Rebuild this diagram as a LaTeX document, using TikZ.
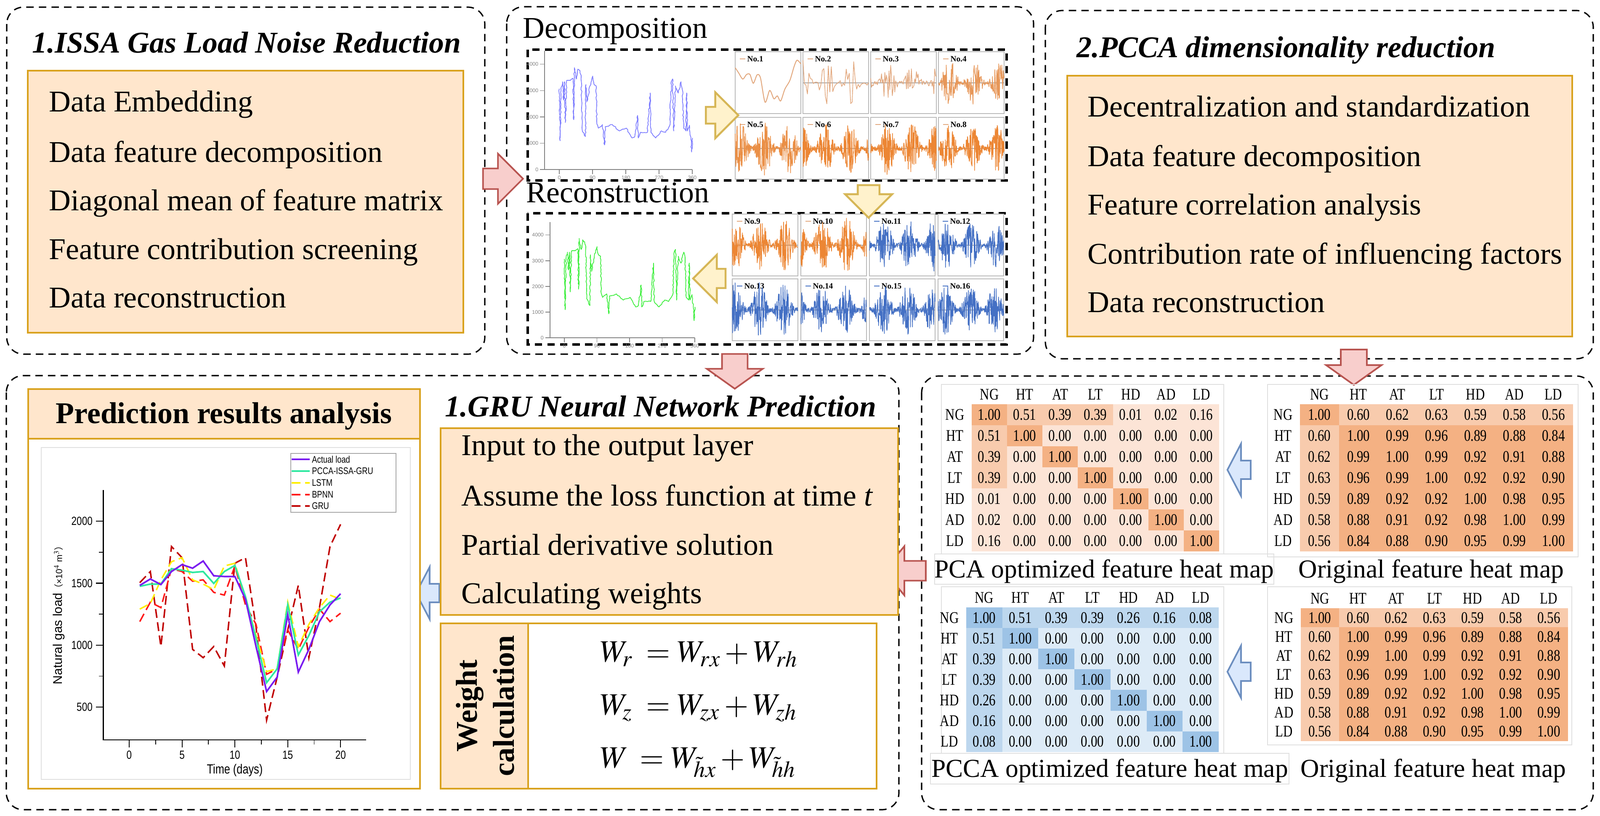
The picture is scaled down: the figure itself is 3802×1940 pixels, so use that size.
\documentclass[tikz,border=0pt]{standalone}
\usepackage{mathptmx}
\usepackage{fontspec}
\setmainfont{Liberation Serif}
\newfontfamily\chartfont{Liberation Sans}
\newfontfamily\narrowserif[FakeStretch=0.8]{Liberation Serif}
\newfontfamily\narrowsans[FakeStretch=0.8]{Liberation Sans}
\newfontfamily\cjkfont{Noto Sans CJK SC}
\usetikzlibrary{positioning,shapes.arrows,decorations.pathmorphing}

\definecolor{boxfill}{HTML}{FFE6CC}
\definecolor{boxline}{HTML}{D9A21E}
\definecolor{redfill}{HTML}{F8CECC}
\definecolor{redline}{HTML}{B85450}
\definecolor{yelfill}{HTML}{FFF2CC}
\definecolor{yelline}{HTML}{D6B656}
\definecolor{bluefill}{HTML}{DAE8FC}
\definecolor{blueline}{HTML}{6C8EBF}
\definecolor{heatO0}{HTML}{FCE4D6}
\definecolor{heatO1}{HTML}{F8CBAD}
\definecolor{heatO2}{HTML}{F4B183}
\definecolor{heatB0}{HTML}{DDEBF7}
\definecolor{heatB1}{HTML}{BDD7EE}
\definecolor{heatB2}{HTML}{9DC3E6}
\definecolor{sigtan}{HTML}{E2A87E}
\definecolor{sigorange}{HTML}{EC8634}
\definecolor{sigblue}{HTML}{4470C4}
\definecolor{loadblue}{HTML}{7C7CFF}
\definecolor{loadgreen}{HTML}{3CEE3C}
\definecolor{cactual}{HTML}{7A1CF0}
\definecolor{cpcca}{HTML}{2EE8A0}
\definecolor{clstm}{HTML}{FFEE00}
\definecolor{cbpnn}{HTML}{FF1A1A}
\definecolor{cgru}{HTML}{C00000}

% heat map: name, x0, y0, cell width, cell height, palette, first row/col boost, rows
\newcommand{\drawheat}[8]{%
  \foreach \lab [count=\hc] in {NG,HT,AT,LT,HD,AD,LD} {
    \node[heatnum] (#1-h\hc) at ({#2+(\hc-0.5)*#4},{#3-23}) {\lab};
    \node[heatnum] (#1-v\hc) at ({#2-40},{#3+(\hc-0.5)*#5}) {\lab};
  }
  \foreach \row [count=\hr] in {#8} {
    \foreach \v [count=\hc] in \row {
      \pgfmathtruncatemacro\lvl{(\v>0.795)*2+and(\v>0.3,\v<0.795)+#7*and(or(\hr==1,\hc==1),\v<0.3)}
      \fill[heat#6\lvl] ({#2+(\hc-1)*#4},{#3+(\hr-1)*#5}) rectangle ++(#4,#5);
      \node[heatnum] (#1-\hr-\hc) at ({#2+(\hc-0.5)*#4},{#3+(\hr-0.5)*#5}) {\v};
    }
  }
}
% small component panel: number, x, y, colour
\newcommand{\sigframe}[4]{%
  \draw[sigbox] (#2,#3) rectangle ++(156,147);
  \draw[#4, line width=0.6pt] (#2+11,#3+17) -- ++(13,0) node[sigtag, anchor=west] (no#1) {No.#1};
}
% noisy component: number, x, y, colour, amplitude, samples
\newcommand{\signoise}[6]{%
  \draw[gray!70, line width=0.3pt] (#2,#3+74) -- ++(156,0);
  \pgfmathsetseed{\number\numexpr 7*#1+11\relax}
  \draw[#4, line width=0.45pt, line join=round] plot[domain=0:156, samples=#6]
    ({#2+\x}, {#3+74+#5*rand*(0.08+0.92*abs(sin(3.1*\x+47*#1))^2)});
}
\newcommand{\loadpath}{(0,3067) -- (2.3,1093) -- (4.9,3120) -- (8.7,3333) -- (11.4,2640) -- (14.4,3333) -- (16.3,1787) -- (20.1,3387) -- (29.6,3387) -- (37.2,3467) -- (39.1,1893) -- (41,3867) -- (46.7,3440) -- (50.5,3813) -- (56.2,3733) -- (59.2,3547) -- (61.9,1520) -- (67.6,1307) -- (70.6,1253) -- (72.1,3227) -- (75.2,2587) -- (82.8,3173) -- (90.4,3547) -- (94.2,3227) -- (99.9,3173) -- (101.8,1733) -- (105.6,1573) -- (116.9,1707) -- (122.6,933) -- (124.5,1627) -- (143.5,1707) -- (162.5,1467) -- (181.5,1573) -- (196.7,1200) -- (204.3,1253) -- (211.9,2053) -- (213.8,1200) -- (219.5,1413) -- (238.5,1413) -- (246.1,2907) -- (248,1413) -- (261.2,1200) -- (276.4,1467) -- (287.8,1413) -- (299.2,1680) -- (303,3333) -- (306.8,3440) -- (309.8,1467) -- (314.4,3173) -- (322,2907) -- (329.6,3333) -- (333.4,3013) -- (336.4,1573) -- (342.9,1467) -- (344.8,2907) -- (346.7,1467) -- (352.4,1680) -- (356.2,1147) -- (358.1,667) -- (360.7,1200)}
% load series chart: origin x, origin y, x unit, y unit, colour
\newcommand{\loadchart}[5]{%
  \begin{scope}[shift={(#1,#2)}, x=#3, y=#4]
    \draw[gray, line width=0.6pt] (-40,4500) -- (-40,0) -- (360,0);
    \foreach \val in {0,1000,...,4000}
      \draw[gray, line width=0.4pt] (-40,\val) -- ++(-3pt,0) node[loadtick, left] {\val};
    \foreach \t in {0,90,...,360}
      \draw[gray, line width=0.4pt] (\t,0) -- ++(0,-3pt) node[loadtick, below] {\t};
    \draw[#5, line width=0.5pt, line join=round, decorate,
      decoration={random steps, segment length=1.3pt, amplitude=0.35pt}] \loadpath;
  \end{scope}
}

\begin{document}
\begin{tikzpicture}[x=0.01cm, y=-0.01cm,
  panel/.style={draw=black, line width=0.9pt, dash pattern=on 5pt off 3.5pt, rounded corners=0.4cm},
  subpanel/.style={draw=black, line width=1.6pt, dash pattern=on 5pt off 3.5pt},
  orangebox/.style={draw=boxline, fill=boxfill, line width=1.3pt},
  item/.style={anchor=base west, inner sep=0pt, font=\fontsize{20.4}{24}\selectfont},
  heading/.style={anchor=base west, inner sep=0pt, font=\fontsize{20.4}{24}\selectfont\bfseries\itshape},
  caption/.style={anchor=base, inner sep=0pt, font=\fontsize{17.5}{20}\selectfont},
  heatnum/.style={inner sep=0pt, font=\narrowserif\fontsize{11}{13}\selectfont},
  frame/.style={draw=gray!25, line width=0.4pt},
  sigbox/.style={draw=gray!55, line width=0.8pt},
  sigtag/.style={inner sep=1pt, text=black, font=\fontsize{5.5}{6}\selectfont\bfseries},
  loadtick/.style={inner sep=1pt, text=gray, font=\chartfont\fontsize{3.5}{4}\selectfont},
  ticklab/.style={inner sep=2pt, font=\narrowsans\fontsize{8}{10}\selectfont},
  legtext/.style={inner sep=0pt, anchor=west, text=black, font=\narrowsans\fontsize{6.5}{8}\selectfont},
  gdash/.style={dash pattern=on 6pt off 3pt},
  redarrow/.style={single arrow, draw=redline, fill=redfill, line width=1.1pt},
  yelarrow/.style={single arrow, draw=yelline, fill=yelfill, line width=1.3pt},
  bluearrow/.style={single arrow, draw=blueline, fill=bluefill, line width=1.1pt, single arrow tip angle=125}]
\useasboundingbox (0,0) rectangle (3802,1940);

% dashed panels
\draw[panel] (16,17) rectangle (1152,842);
\draw[panel] (1204,16) rectangle (2456,842);
\draw[panel] (2484,25) rectangle (3786,853);
\draw[panel] (15,893) rectangle (2136,1925);
\draw[panel] (2190,894) rectangle (3786,1925);

% 1. ISSA noise reduction
\node[heading] (issaT) at (76,126) {1.ISSA Gas Load Noise Reduction};
\draw[orangebox] (66,168) rectangle (1101,791);
\node[item] (issa1) at (116,266) {Data Embedding};
\node[item] (issa2) at (116,386) {Data feature decomposition};
\node[item] (issa3) at (116,501) {Diagonal mean of feature matrix};
\node[item] (issa4) at (116,617) {Feature contribution screening};
\node[item] (issa5) at (116,732) {Data reconstruction};

% 2. PCCA dimensionality reduction
\node[heading] (pccaT) at (2558,137) {2.PCCA dimensionality reduction};
\draw[orangebox] (2536,180) rectangle (3736,800);
\node[item] (pcca1) at (2584,278) {Decentralization and standardization};
\node[item] (pcca2) at (2584,396) {Data feature decomposition};
\node[item] (pcca3) at (2584,511) {Feature correlation analysis};
\node[item] (pcca4) at (2584,628) {Contribution rate of influencing factors};
\node[item] (pcca5) at (2584,743) {Data reconstruction};

% decomposition and reconstruction
\node[item] (decT) at (1242,91) {Decomposition};
\node[item] (recT) at (1250,482) {Reconstruction};
\draw[subpanel] (1254,118) rectangle (2392,429);
\draw[subpanel] (1254,507) rectangle (2392,819);
\loadchart{1329}{403}{0.00878cm}{0.000625cm}{loadblue}
\loadchart{1341}{803}{0.00861cm}{0.000615cm}{loadgreen}

\sigframe{1}{1747}{123}{sigtan}
\draw[sigtan, line width=0.6pt] plot[smooth] coordinates {(1747,161) (1755,173) (1765,188) (1774,177) (1782,177) (1790,198) (1799,178) (1807,185) (1818,243) (1829,215) (1839,235) (1847,228) (1855,240) (1865,212) (1877,191) (1887,158) (1894,143) (1903,152)};
\sigframe{2}{1908}{123}{sigtan}   \signoise{2}{1908}{123}{sigtan}{55}{45}
\sigframe{3}{2069}{123}{sigtan}   \signoise{3}{2069}{123}{sigtan}{50}{80}
\sigframe{4}{2230}{123}{sigtan}   \signoise{4}{2230}{123}{sigtan!50!sigorange}{55}{170}
\sigframe{5}{1747}{279}{sigtan}   \signoise{5}{1747}{279}{sigorange!75!sigtan}{65}{230}
\sigframe{6}{1908}{279}{sigtan}   \signoise{6}{1908}{279}{sigorange}{60}{230}
\sigframe{7}{2069}{279}{sigtan}   \signoise{7}{2069}{279}{sigorange}{62}{230}
\sigframe{8}{2230}{279}{sigtan}   \signoise{8}{2230}{279}{sigorange}{55}{230}
\sigframe{9}{1740}{509}{sigtan}   \signoise{9}{1740}{509}{sigorange}{60}{230}
\sigframe{10}{1903}{509}{sigtan}  \signoise{10}{1903}{509}{sigorange}{65}{230}
\sigframe{11}{2066}{509}{sigblue} \signoise{11}{2066}{509}{sigblue}{62}{230}
\sigframe{12}{2229}{509}{sigblue} \signoise{12}{2229}{509}{sigblue}{55}{230}
\sigframe{13}{1740}{663}{sigblue} \signoise{13}{1740}{663}{sigblue}{65}{230}
\sigframe{14}{1903}{663}{sigblue} \signoise{14}{1903}{663}{sigblue}{60}{230}
\sigframe{15}{2066}{663}{sigblue} \signoise{15}{2066}{663}{sigblue}{62}{230}
\sigframe{16}{2229}{663}{sigblue} \signoise{16}{2229}{663}{sigblue}{60}{230}

% block arrows
\node[redarrow, minimum height=0.95cm, inner sep=0.225cm, single arrow head extend=0.35cm] (arrIssa) at (1183,425) {};
\node[yelarrow, minimum height=0.77cm, inner sep=0.175cm, single arrow head extend=0.35cm] (arrDec) at (1706,274) {};
\node[yelarrow, minimum height=0.75cm, inner sep=0.235cm, single arrow head extend=0.3cm, shape border rotate=270] (arrDown) at (2064,466) {};
\node[yelarrow, minimum height=0.77cm, inner sep=0.205cm, single arrow head extend=0.335cm, shape border rotate=180] (arrRec) at (1697,662) {};
\node[redarrow, minimum height=0.71cm, inner sep=0.285cm, single arrow head extend=0.36cm, single arrow tip angle=109, shape border rotate=270] (arrPred) at (1746,872) {};
\node[redarrow, minimum height=0.71cm, inner sep=0.29cm, single arrow head extend=0.35cm, single arrow tip angle=109, shape border rotate=270] (arrPcca) at (3217,862) {};
\node[redarrow, minimum height=0.99cm, inner sep=0.215cm, single arrow head extend=0.35cm, single arrow tip angle=101, shape border rotate=180] (arrHeat) at (2160,1357) {};
\node[bluearrow, minimum height=0.53cm, inner sep=0.2cm, single arrow head extend=0.4cm, shape border rotate=180] (arrGru) at (1022,1410) {};
\node[bluearrow, minimum height=0.51cm, inner sep=0.2cm, single arrow head extend=0.4cm, shape border rotate=180] (arrHeatA) at (2950,1117) {};
\node[bluearrow, minimum height=0.51cm, inner sep=0.2cm, single arrow head extend=0.4cm, shape border rotate=180] (arrHeatB) at (2950,1597) {};

% heat maps
\draw[frame] (2237,914) rectangle (2908,1317);
\draw[frame] (2221,1317) rectangle (3027,1389);
\draw[frame] (3012,914) rectangle (3750,1324);
\draw[frame] (2237,1395) rectangle (2908,1791);
\draw[frame] (2211,1791) rectangle (3063,1864);
\draw[frame] (3012,1395) rectangle (3735,1771);
\drawheat{pca}{2309}{961}{84}{50}{O}{0}{{1.00,0.51,0.39,0.39,0.01,0.02,0.16},{0.51,1.00,0.00,0.00,0.00,0.00,0.00},{0.39,0.00,1.00,0.00,0.00,0.00,0.00},{0.39,0.00,0.00,1.00,0.00,0.00,0.00},{0.01,0.00,0.00,0.00,1.00,0.00,0.00},{0.02,0.00,0.00,0.00,0.00,1.00,0.00},{0.16,0.00,0.00,0.00,0.00,0.00,1.00}}
\drawheat{orgA}{3089}{961}{92.7}{50}{O}{0}{{1.00,0.60,0.62,0.63,0.59,0.58,0.56},{0.60,1.00,0.99,0.96,0.89,0.88,0.84},{0.62,0.99,1.00,0.99,0.92,0.91,0.88},{0.63,0.96,0.99,1.00,0.92,0.92,0.90},{0.59,0.89,0.92,0.92,1.00,0.98,0.95},{0.58,0.88,0.91,0.92,0.98,1.00,0.99},{0.56,0.84,0.88,0.90,0.95,0.99,1.00}}
\drawheat{pcca}{2296}{1444}{85.7}{49.1}{B}{1}{{1.00,0.51,0.39,0.39,0.26,0.16,0.08},{0.51,1.00,0.00,0.00,0.00,0.00,0.00},{0.39,0.00,1.00,0.00,0.00,0.00,0.00},{0.39,0.00,0.00,1.00,0.00,0.00,0.00},{0.26,0.00,0.00,0.00,1.00,0.00,0.00},{0.16,0.00,0.00,0.00,0.00,1.00,0.00},{0.08,0.00,0.00,0.00,0.00,0.00,1.00}}
\drawheat{orgB}{3091}{1446}{90.7}{45.1}{O}{0}{{1.00,0.60,0.62,0.63,0.59,0.58,0.56},{0.60,1.00,0.99,0.96,0.89,0.88,0.84},{0.62,0.99,1.00,0.99,0.92,0.91,0.88},{0.63,0.96,0.99,1.00,0.92,0.92,0.90},{0.59,0.89,0.92,0.92,1.00,0.98,0.95},{0.58,0.88,0.91,0.92,0.98,1.00,0.99},{0.56,0.84,0.88,0.90,0.95,0.99,1.00}}
\node[caption] (capPca) at (2624,1373) {PCA optimized feature heat map};
\node[caption] (capOrgA) at (3401,1373) {Original feature heat map};
\node[caption] (capPcca) at (2637,1847) {PCCA optimized feature heat map};
\node[caption] (capOrgB) at (3406,1847) {Original feature heat map};

% GRU prediction
\node[heading] (gruT) at (1057,990) {1.GRU Neural Network Prediction};
\draw[orangebox] (1047,1018) rectangle (2134,1462);
\node[item] (gru1) at (1096,1082) {Input to the output layer};
\node[item] (gru2) at (1096,1202) {Assume the loss function at time \textit{t}};
\node[item] (gru3) at (1096,1319) {Partial derivative solution};
\node[item] (gru4) at (1096,1434) {Calculating weights};
\draw[orangebox, fill=white] (1047,1482) rectangle (2083,1875);
\draw[orangebox] (1047,1482) rectangle (1255,1875);
\node[rotate=90, align=center, font=\fontsize{20.4}{25}\selectfont\bfseries] (wlab) at (1153,1678) {Weight\\calculation};
\node[item, font=\fontsize{21}{25}\selectfont] (eq1) at (1425,1573) {\makebox[1.1cm][l]{$W_{r}$}$=W_{rx}+W_{rh}$};
\node[item, font=\fontsize{21}{25}\selectfont] (eq2) at (1425,1699) {\makebox[1.1cm][l]{$W_{z}$}$=W_{zx}+W_{zh}$};
\node[item, font=\fontsize{21}{25}\selectfont] (eq3) at (1425,1825) {\makebox[0.95cm][l]{$W$}$=W_{\tilde{h}x}+W_{\tilde{h}h}$};

% prediction results analysis
\draw[orangebox] (67,925) rectangle (998,1043);
\node[anchor=base, inner sep=0pt, font=\fontsize{20.4}{24}\selectfont\bfseries] (predT) at (532,1006) {Prediction results analysis};
\draw[orangebox, fill=white] (67,1043) rectangle (998,1875);
\draw[frame] (98,1064) rectangle (975,1853);
\begin{scope}[shift={(307,1828.5)}, x=0.251cm, y=0.00295cm]
  \draw[line width=0.7pt] (-2.45,2252) -- (-2.45,235) -- (22.4,235);
  \foreach \d in {0,5,...,20}
    \draw[line width=0.6pt] (\d,235) -- ++(0,-5pt) node[ticklab, below] {\d};
  \foreach \d in {2.5,7.5,12.5,17.5}
    \draw[line width=0.5pt] (\d,235) -- ++(0,-3pt);
  \foreach \val in {500,1000,...,2000}
    \draw[line width=0.6pt] (-2.45,\val) -- ++(-5pt,0) node[ticklab, left] {\val};
  \foreach \val in {750,1250,1750}
    \draw[line width=0.5pt] (-2.45,\val) -- ++(-3pt,0);
  \draw[cgru, line width=1pt, gdash] plot coordinates {(1,1504) (2,1594) (3,989) (4,1796) (5,1706) (6,966) (7,899) (8,989) (9,832) (10,1661) (11,1706) (12,1146) (13,395) (14,742) (15,1123) (16,1482) (17,899) (18,1303) (19,1796) (20,1975)};
  \draw[cbpnn, line width=1pt, gdash] plot coordinates {(1,1190) (2,1347) (3,1303) (4,1617) (5,1594) (6,1516) (7,1527) (8,1426) (9,1404) (10,1639) (11,1325) (12,1168) (13,765) (14,809) (15,1123) (16,966) (17,1145) (18,1291) (19,1190) (20,1258)};
  \draw[clstm, line width=1pt, gdash] plot coordinates {(1,1291) (2,1336) (3,1527) (4,1673) (5,1706) (6,1527) (7,1493) (8,1448) (9,1639) (10,1661) (11,1370) (12,1078) (13,787) (14,809) (15,1347) (16,989) (17,1168) (18,1303) (19,1404) (20,1370)};
  \draw[cpcca, line width=1.1pt] plot coordinates {(1,1475) (2,1493) (3,1493) (4,1617) (5,1605) (6,1587) (7,1594) (8,1498) (9,1594) (10,1643) (11,1392) (12,1056) (13,697) (14,809) (15,1325) (16,921) (17,1078) (18,1269) (19,1347) (20,1381)};
  \draw[cactual, line width=1.1pt] plot coordinates {(1,1482) (2,1534) (3,1489) (4,1594) (5,1650) (6,1621) (7,1679) (8,1560) (9,1554) (10,1554) (11,1370) (12,989) (13,626) (14,742) (15,1247) (16,783) (17,966) (18,1190) (19,1325) (20,1415)};
\end{scope}
\node[inner sep=0pt, font=\narrowsans\fontsize{9}{11}\selectfont] (xlab) at (558,1831) {Time (days)};
\node[rotate=90, inner sep=0pt, font=\chartfont\fontsize{8.5}{10}\selectfont] (ylab) at (140,1457)
  {Natural gas load{\fontsize{6}{7}\selectfont\cjkfont （}{\fontsize{6}{7}\selectfont ×10$^{4}$ m$^{3}$}{\fontsize{6}{7}\selectfont\cjkfont ）}};
% legend
\draw[gray!70, line width=0.8pt] (691,1078) rectangle (941,1218);
\coordinate (leg1) at (693,1092);
\coordinate (leg2) at (693,1120);
\coordinate (leg3) at (693,1148);
\coordinate (leg4) at (693,1176);
\coordinate (leg5) at (693,1203);
\draw[cactual, line width=1.1pt] (leg1) -- ++(43,0) node[legtext, right=1pt] (legA) {Actual load};
\draw[cpcca, line width=1.1pt] (leg2) -- ++(43,0) node[legtext, right=1pt] (legP) {PCCA-ISSA-GRU};
\draw[clstm, line width=1pt, gdash] (leg3) -- ++(43,0) node[legtext, right=1pt] (legL) {LSTM};
\draw[cbpnn, line width=1pt, gdash] (leg4) -- ++(43,0) node[legtext, right=1pt] (legB) {BPNN};
\draw[cgru, line width=1pt, gdash] (leg5) -- ++(43,0) node[legtext, right=1pt] (legG) {GRU};
\end{tikzpicture}
\end{document}
